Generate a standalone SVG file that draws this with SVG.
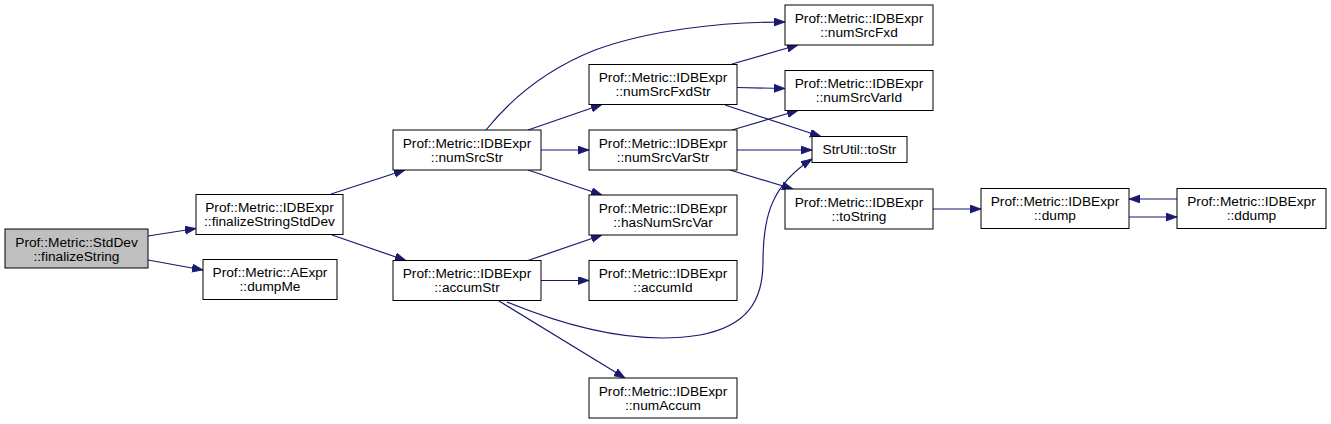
<svg xmlns="http://www.w3.org/2000/svg" width="1331" height="424" viewBox="0 0 1331 424">
<style>
.n rect{fill:#fff;stroke:#000;stroke-width:1}
.n text{font-family:"Liberation Sans",Arial,sans-serif;font-size:13.7px;text-anchor:middle;fill:#000}
#edges path{fill:none;stroke:#191970;stroke-width:1.2;marker-end:url(#ah)}
</style>
<defs>
<marker id="ah" markerUnits="userSpaceOnUse" markerWidth="12" markerHeight="9" refX="11" refY="4" orient="auto" viewBox="0 0 12 9">
<path d="M0,0 L11,4 L0,8 z" fill="#191970" stroke="#191970" stroke-width="0.8"/>
</marker>
</defs>
<rect width="1331" height="424" fill="#fff"/>
<g id="edges">
<path d="M148,236 L196,228.5"/>
<path d="M148,260 L203,270"/>
<path d="M331,194 L405,170"/>
<path d="M332,235 L406,260.5"/>
<path d="M486,130 C510,100 545,70 595,50 C650,30 720,22 785,22"/>
<path d="M528,130 L602,104.5"/>
<path d="M541,150 L589,150"/>
<path d="M528,170 L602,195"/>
<path d="M732,64 L798,45"/>
<path d="M737,87.5 L785,88.5"/>
<path d="M725,105 L821,136.5"/>
<path d="M732,130 L798,110.5"/>
<path d="M737,150 L812,150"/>
<path d="M730,170 L793,189"/>
<path d="M528,260.5 L602,235"/>
<path d="M541,280.5 L589,280.5"/>
<path d="M499,301 L625,378"/>
<path d="M507,302 C570,328 640,345 700,335 C748,326 763,300 763,262 C763,215 772,185 812,159"/>
<path d="M933,209 L981,209"/>
<path d="M1129,217 L1177,217"/>
<path d="M1177,199 L1129,199"/>
</g>
<g id="n1" class="n"><rect x="5" y="229" width="143" height="39" style="fill:#bfbfbf"/><text x="76.5" y="246.5">Prof::Metric::StdDev</text><text x="76.5" y="260.5">::finalizeString</text></g>
<g id="n2" class="n"><rect x="196" y="194.5" width="147" height="40"/><text x="269.5" y="212">Prof::Metric::IDBExpr</text><text x="269.5" y="226">::finalizeStringStdDev</text></g>
<g id="n3" class="n"><rect x="203" y="259.5" width="134" height="40"/><text x="270" y="277">Prof::Metric::AExpr</text><text x="270" y="291">::dumpMe</text></g>
<g id="n4" class="n"><rect x="393" y="130" width="148" height="40"/><text x="467" y="147.5">Prof::Metric::IDBExpr</text><text x="467" y="161.5">::numSrcStr</text></g>
<g id="n5" class="n"><rect x="589" y="64.5" width="148" height="40"/><text x="663" y="82">Prof::Metric::IDBExpr</text><text x="663" y="96">::numSrcFxdStr</text></g>
<g id="n6" class="n"><rect x="589" y="130" width="148" height="40"/><text x="663" y="147.5">Prof::Metric::IDBExpr</text><text x="663" y="161.5">::numSrcVarStr</text></g>
<g id="n7" class="n"><rect x="589" y="195" width="148" height="40"/><text x="663" y="212.5">Prof::Metric::IDBExpr</text><text x="663" y="226.5">::hasNumSrcVar</text></g>
<g id="n8" class="n"><rect x="393" y="260.5" width="148" height="40"/><text x="467" y="278">Prof::Metric::IDBExpr</text><text x="467" y="292">::accumStr</text></g>
<g id="n9" class="n"><rect x="589" y="260.5" width="148" height="40"/><text x="663" y="278">Prof::Metric::IDBExpr</text><text x="663" y="292">::accumId</text></g>
<g id="n10" class="n"><rect x="589" y="378" width="148" height="40"/><text x="663" y="395.5">Prof::Metric::IDBExpr</text><text x="663" y="409.5">::numAccum</text></g>
<g id="n11" class="n"><rect x="785" y="5" width="148" height="40"/><text x="859" y="22.5">Prof::Metric::IDBExpr</text><text x="859" y="36.5">::numSrcFxd</text></g>
<g id="n12" class="n"><rect x="785" y="70.5" width="148" height="40"/><text x="859" y="88">Prof::Metric::IDBExpr</text><text x="859" y="102">::numSrcVarId</text></g>
<g id="n13" class="n"><rect x="812" y="136.5" width="95" height="26"/><text x="859.5" y="154">StrUtil::toStr</text></g>
<g id="n14" class="n"><rect x="785" y="189" width="148" height="40"/><text x="859" y="206.5">Prof::Metric::IDBExpr</text><text x="859" y="220.5">::toString</text></g>
<g id="n15" class="n"><rect x="981" y="188.5" width="148" height="40"/><text x="1055" y="206">Prof::Metric::IDBExpr</text><text x="1055" y="220">::dump</text></g>
<g id="n16" class="n"><rect x="1177" y="188.5" width="149" height="40"/><text x="1251.5" y="206">Prof::Metric::IDBExpr</text><text x="1251.5" y="220">::ddump</text></g>
</svg>
